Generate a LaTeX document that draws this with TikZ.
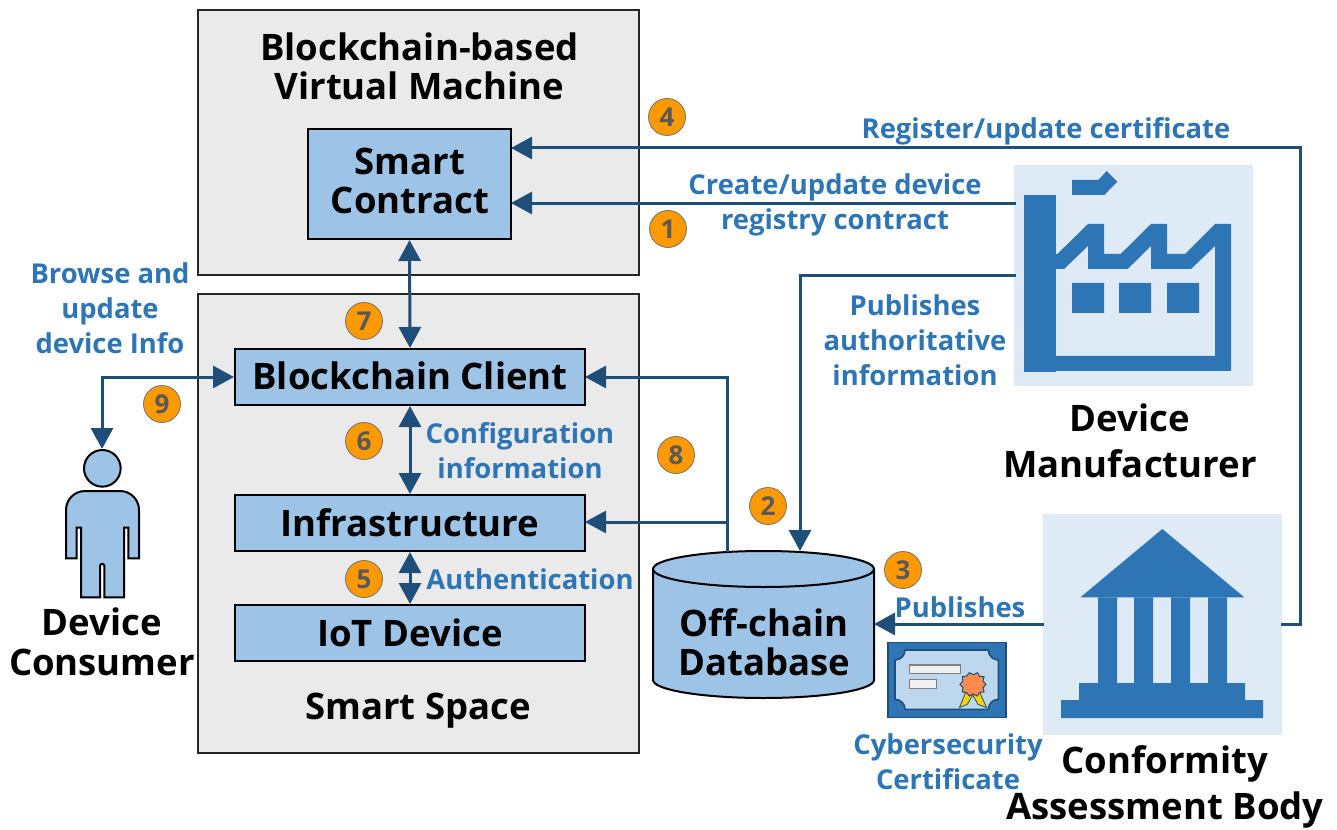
\documentclass[tikz,border=0pt]{standalone}
\usepackage{fontspec}
\setmainfont{Open Sans}
\usetikzlibrary{arrows.meta}
\definecolor{panelgray}{HTML}{EAEAEA}
\definecolor{boxblue}{HTML}{9DC3E6}
\definecolor{linkblue}{HTML}{1F4E79}
\definecolor{textblue}{HTML}{2E75B6}
\definecolor{iconbg}{HTML}{DEEAF6}
\definecolor{badgeorange}{HTML}{FF9900}
\definecolor{badgetext}{HTML}{595959}
\definecolor{certlight}{HTML}{BDD7EE}
\tikzset{
  x=1pt,y=-1pt,
  panel/.style={draw=black!85,line width=1.8pt,fill=panelgray,minimum width=441pt,inner sep=0pt},
  bluebox/.style={draw=black,line width=2pt,fill=boxblue,inner sep=0pt,font=\bfseries\fontsize{36.5}{40}\selectfont,align=center,text=black},
  wide/.style={bluebox,minimum width=350pt},
  heading/.style={inner sep=0pt,align=center,text=black,font=\bfseries\fontsize{36.5}{39.5}\selectfont},
  bighead/.style={heading,font=\bfseries\fontsize{36.5}{46}\selectfont},
  bluelabel/.style={inner sep=0pt,align=center,text=textblue,font=\bfseries\fontsize{27.4}{35}\selectfont},
  badge/.style={circle,draw=black!55,line width=.8pt,fill=badgeorange,minimum size=37pt,inner sep=0pt,text=badgetext,font=\bfseries\fontsize{26}{26}\selectfont},
  iconpanel/.style={fill=iconbg,inner sep=0pt},
  link/.style={draw=linkblue,line width=3pt,-{Triangle[length=21pt,width=22pt]}},
  linkboth/.style={draw=linkblue,line width=3pt,{Triangle[length=21pt,width=22pt]}-{Triangle[length=21pt,width=22pt]}},
  iconfill/.style={fill=textblue},
}
\begin{document}
\begin{tikzpicture}
\useasboundingbox (0,0) rectangle (1337,829);
% panels
\node[panel,minimum height=265pt] (vm) at (418.5,142.5) {};
\node[panel,minimum height=459pt] (space) at (418.5,523.5) {};
% boxes
\node[bluebox,minimum width=203pt,minimum height=110pt] (sc) at (409.5,184) {};
\node[heading] (sctext) at (410,181) {Smart\\Contract};
\node[wide,minimum height=56pt] (bc) at (410,377) {\raisebox{2pt}{Blockchain Client}};
\node[wide,minimum height=56pt] (infra) at (410,523) {\raisebox{1pt}{Infrastructure}};
\node[wide,minimum height=56pt] (iot) at (410,633) {\raisebox{1pt}{IoT Device}};
% panel titles
\node[heading] (vmtitle) at (419.5,66.5) {Blockchain-based\\Virtual Machine};
\node[heading] (sstitle) at (418,711) {Smart Space};
% factory icon
\node[iconpanel,minimum width=239pt,minimum height=221pt] (factory) at (1133.5,275.5) {};
\begin{scope}[shift={(1000,150)},x=.33333pt,y=-.33333pt]
  \fill[iconfill] (72,135) rectangle (168,665);
  \fill[iconfill] (216,90)--(295,90)--(320,63)--(352,95)--(313,135)--(216,135)--cycle;
  \fill[iconfill] (168,312)--(172,312)--(264,222)--(312,222)--(312,312)--(362,312)--(453,222)--(501,222)--(501,312)--(555,312)--(645,222)--(693,222)--(693,663)--(168,663)--(168,618)--(645,618)--(645,288)--(573,357)--(453,357)--(453,288)--(383,357)--(264,357)--(264,288)--(192,357)--(168,357)--cycle;
  \fill[iconfill] (216,399) rectangle (312,489) (357,399) rectangle (453,489) (501,399) rectangle (597,489);
\end{scope}
\node[bighead] (factorytext) at (1130,441) {Device\\Manufacturer};
% temple icon
\node[iconpanel,minimum width=239pt,minimum height=221pt] (temple) at (1162.5,624.5) {};
\begin{scope}[shift={(1030,505)},x=.33333pt,y=-.33333pt]
  \fill[iconfill] (397,72)--(643,277)--(151,277)--cycle;
  \fill[iconfill] (204,277) rectangle (261,534) (312,277) rectangle (369,534) (423,277) rectangle (480,534) (534,277) rectangle (591,534);
  \fill[iconfill] (147,534) rectangle (645,585) (93,585) rectangle (699,639);
\end{scope}
\node[bighead] (templetext) at (1165,787) {Conformity\\Assessment Body};
% database
\path[draw=black,line width=2pt,fill=boxblue] (653,569) arc[start angle=180,end angle=360,x radius=110.5,y radius=18] -- (874,680) arc[start angle=0,end angle=180,x radius=110.5,y radius=18] -- cycle;
\draw[black,line width=2pt] (653,569) arc[start angle=180,end angle=0,x radius=110.5,y radius=18];
\node[heading] (db) at (764,642) {Off-chain\\Database};
\coordinate (dbtop) at (800,551);
\coordinate (dbtop2) at (727,552);
\coordinate (dbright) at (874,624);
% certificate
\node[draw=linkblue,line width=1.5pt,fill=textblue,minimum width=118pt,minimum height=75pt,inner sep=0pt] (cert) at (947,680) {};
\begin{scope}[shift={(640,540)},x=.33333pt,y=-.33333pt]
  \path[draw=linkblue,line width=1.6pt,fill=certlight] (795,330)--(1045,330) arc[start angle=180,end angle=90,radius=30] --(1075,478) arc[start angle=270,end angle=180,radius=30] --(795,508) arc[start angle=0,end angle=-90,radius=30] --(765,360) arc[start angle=90,end angle=0,radius=30] --cycle;
  \draw[gray,line width=1.6pt,fill=black!6] (808,375) rectangle (962,400) (808,418) rectangle (890,445);
  \draw[linkblue,line width=.8pt,fill=yellow!70!orange] (978,455)--(958,503)--(982,493)--(998,465)--cycle;
  \draw[linkblue,line width=.8pt,fill=yellow!70!orange] (1018,455)--(1040,503)--(1014,493)--(998,465)--cycle;
  \draw[linkblue,line width=1pt,fill=orange!70!red!70!white] plot[smooth cycle,tension=0] coordinates {(1038,433)(1029,443)(1032,456)(1019,457)(1012,468)(1000,462)(988,468)(980,458)(967,456)(969,443)(960,433)(969,423)(967,410)(980,408)(988,398)(1000,404)(1012,398)(1019,409)(1032,410)(1029,423)};
\end{scope}
% person
\begin{scope}[shift={(50,430)},x=.33333pt,y=-.33333pt]
  \draw[black,line width=2pt,fill=boxblue] (157,115) circle[radius=55];
  \draw[black,line width=2pt,fill=boxblue] (48,385)--(48,240) arc[start angle=180,end angle=270,radius=57] --(210,183) arc[start angle=270,end angle=360,radius=57] --(267,385)--(235,385)--(235,293)--(222,293)--(222,502)--(163,502)--(163,408) arc[start angle=0,end angle=-180,radius=6.5] --(150,502)--(93,502)--(93,293)--(80,293)--(80,385)--cycle;
\end{scope}
\coordinate (personhead) at (102,449);
\node[heading] (persontext) at (102,642) {Device\\Consumer};
% free junctions
\coordinate (regtop) at (1300,148);
\coordinate (regright) at (1281,624);
\coordinate (regbend) at (1300,624);
\coordinate (pubfrom) at (1044,624);
\coordinate (createfrom) at (1016,203);
\coordinate (createto) at (511,203);
\coordinate (regto) at (511,148);
\coordinate (authfrom) at (1016,275);
\coordinate (authbend) at (800,275);
\coordinate (clientin) at (585,377);
\coordinate (clientbend) at (727,377);
\coordinate (infrain) at (585,522);
\coordinate (infrabend) at (727,522);
\coordinate (userbend) at (102,377);
% connectors
\draw[link] (regright)--(regbend)--(regtop)--(regto);
\draw[link] (createfrom)--(createto);
\draw[link] (authfrom)--(authbend)--(dbtop);
\draw[link] (pubfrom)--(dbright);
\draw[link] (dbtop2)--(clientbend)--(clientin);
\draw[link] (infrabend)--(infrain);
\draw[linkboth] (sc.south)--(bc.north);
\draw[linkboth] (bc.south)--(infra.north);
\draw[linkboth] (infra.south)--(iot.north);
\draw[linkboth] (bc.west)--(userbend)--(personhead);
% labels
\node[bluelabel] (l1) at (1046,131) {Register/update certificate};
\node[bluelabel] (l2) at (835,205) {Create/update device\\registry contract};
\node[bluelabel] (l3) at (915,340) {Publishes\\authoritative\\information};
\node[bluelabel] (l4) at (110,308.5) {Browse and\\update\\device Info};
\node[bluelabel] (l5) at (520,451) {Configuration\\information};
\node[bluelabel] (l6) at (530,579) {Authentication};
\node[bluelabel] (l7) at (960,607) {Publishes};
\node[bluelabel] (l8) at (948,762) {Cybersecurity\\Certificate};
% badges
\node[badge] (b1) at (668,229) {1};
\node[badge] (b2) at (768,506) {2};
\node[badge] (b3) at (903,570) {3};
\node[badge] (b4) at (667,117) {4};
\node[badge] (b5) at (364,579) {5};
\node[badge] (b6) at (364,441) {6};
\node[badge] (b7) at (364,321) {7};
\node[badge] (b8) at (676,455) {8};
\node[badge] (b9) at (162,404) {9};
\end{tikzpicture}
\end{document}
